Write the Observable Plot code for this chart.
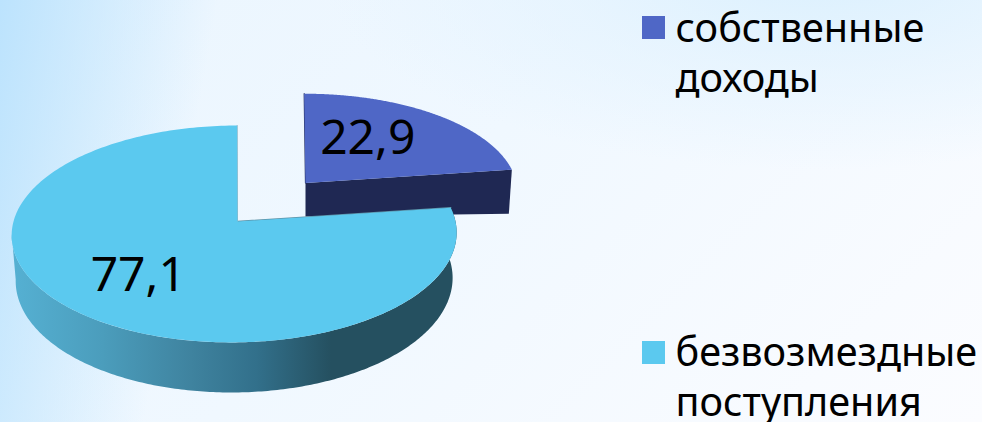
<!DOCTYPE html>
<html><head><meta charset="utf-8">
<style>
html,body{margin:0;padding:0;width:982px;height:422px;overflow:hidden}
body{background:
 linear-gradient(100deg, rgba(188,227,253,1) 0px, rgba(188,227,253,0) 215px),
 radial-gradient(ellipse 500px 200px at 820px -30px, #dbf0fe 0%, rgba(225,242,254,.6) 50%, rgba(240,248,255,0) 100%),
 linear-gradient(135deg,#eaf5fe 0%,#f0f8ff 45%,#fbfcff 100%)}
svg{display:block;background:transparent!important}
</style>
<script src="https://cdn.jsdelivr.net/npm/d3@7"></script>
<script src="https://cdn.jsdelivr.net/npm/@observablehq/plot@0.6"></script>
</head><body>
<script>
const categories = [["собственные", "доходы"], ["безвозмездные", "поступления"]];
const values = [22.9, 77.1];
const valueLabels = ["22,9", "77,1"];
const topColors = ["#4f67c6", "#5bc9ef"];

// layout of the drawing, in picture pixels
const W = 982, H = 422, K = 0.115, SKEW = -3, STEPS = 240;
const font = "'Noto Sans', sans-serif";
const slices = d3.pie().sort(null).value(d => d)(values);
const rim = (ring, th) => {
  const u = Math.sin(th), v = -Math.cos(th), d = 1 - K * v;
  return {x: ring.cx + (ring.rx * u + SKEW * v) / d, y: ring.cy + ring.ry * v / d};
};
const arc = (ring, a, b) => d3.range(STEPS + 1).map(i => rim(ring, a + (b - a) * i / STEPS));

// small slice
const s1 = slices[0];
const r1 = {cx: 301, cy: 182, rx: 215, ry: 99};
const a1 = {x: 305, y: 182.5}, a1Low = {x: 305, y: 216};
const c1 = rim(r1, s1.endAngle), c1Low = {x: c1.x - 3, y: c1.y + 44};
const top1 = [a1, ...arc(r1, s1.startAngle, s1.endAngle)];
const face1 = [a1, c1, c1Low, a1Low];

// large slice
const s2 = slices[1];
const r2 = {cx: 234, cy: 221, rx: 221, ry: 107};
const r2Low = {cx: 234, cy: 266, rx: 217, ry: 111.5};
const a2 = {x: 237, y: 221};
const sideEnd = 2 * Math.PI - Math.acos(-K);
const top2 = [a2, ...arc(r2, s2.startAngle, s2.endAngle)];
const side2 = [...arc(r2, s2.startAngle, sideEnd), ...arc(r2Low, sideEnd, s2.startAngle)];
const cutEdge = [a2, rim(r2, s2.endAngle)];
const backEdge = [a2, rim(r2, s2.startAngle)];

// labels from the slice's mid-angle
const labelAt = (s, ring, apex, f, ox, oy) => {
  const p = rim(ring, (s.startAngle + s.endAngle) / 2);
  return {x: apex.x + (p.x - apex.x) * f + ox, y: apex.y + (p.y - apex.y) * f + oy};
};
const labels = [
  {...labelAt(s1, r1, a1, 0.5, -2, -10), text: valueLabels[0]},
  {...labelAt(s2, r2, a2, 0.62, 3, -1), text: valueLabels[1]}
];
const swatches = [
  {sx: 642, sy: 16, fill: topColors[0]},
  {sx: 642, sy: 341, fill: topColors[1]}
];
const legendLines = [
  {x: 675, y: 41, text: categories[0][0]},
  {x: 675, y: 91, text: categories[0][1]},
  {x: 675, y: 365, text: categories[1][0]},
  {x: 675, y: 415, text: categories[1][1]}
];

const defs = () => {
  const d = d3.create("svg:defs");
  const g = d.append("linearGradient").attr("id", "sideGrad").attr("gradientUnits", "userSpaceOnUse")
    .attr("x1", 14).attr("x2", 454).attr("y1", 0).attr("y2", 0);
  [[0, "#55b0d2"], [0.2, "#4b9dbc"], [0.4, "#3f839f"], [0.55, "#32708b"], [0.72, "#255060"], [1, "#255060"]]
    .forEach(([o, c]) => g.append("stop").attr("offset", o).attr("stop-color", c));
  return d.node();
};
const xy = {x: "x", y: "y"};
const poly = (pts, fill) => Plot.line(pts, {...xy, fill, stroke: "none", curve: "linear"});

const chart = Plot.plot({
  width: W, height: H, margin: 0,
  x: {domain: [0, W], range: [0, W], axis: null},
  y: {domain: [0, H], range: [0, H], axis: null},
  marks: [
    defs,
    poly(face1, "#1f2853"),
    Plot.line([a1, rim(r1, s1.startAngle)], {...xy, stroke: "#2a3566", strokeWidth: 1.2}),
    poly(top1, topColors[0]),
    Plot.line(backEdge, {...xy, stroke: "#5c93a8", strokeWidth: 1.4}),
    poly(side2, "url(#sideGrad)"),
    Plot.line(cutEdge, {...xy, stroke: "#9ab4c0", strokeWidth: 1}),
    poly(top2, topColors[1]),
    Plot.text(labels, {...xy, text: "text", fontSize: 48, fontFamily: font, fill: "#000", textAnchor: "middle"}),
    Plot.rect(swatches, {
      x1: "sx", x2: d => d.sx + 23, y1: "sy", y2: d => d.sy + 23, fill: "fill"
    }),
    Plot.text(legendLines, {
      ...xy, text: "text", fontSize: 39.6, fontFamily: font, fill: "#000",
      textAnchor: "start", lineAnchor: "bottom"
    })
  ]
});
document.body.append(chart);
</script>
</body></html>
